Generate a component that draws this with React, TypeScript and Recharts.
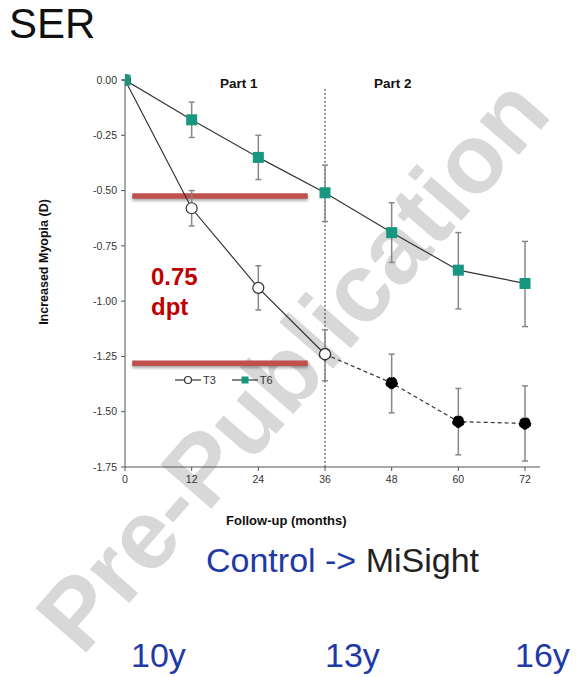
import React from "react";
import {
    LineChart,
    Line,
    XAxis,
    YAxis,
    ErrorBar,
    ReferenceLine,
    Legend,
} from "recharts";

// follow-up months
const months = [0, 12, 24, 36, 48, 60, 72];

// T6 group (teal squares)
const t6Mean = [0, -0.18, -0.35, -0.51, -0.69, -0.86, -0.92];
const t6ErrDown = [0, 0.08, 0.1, 0.13, 0.135, 0.175, 0.195];
const t6ErrUp = [0, 0.08, 0.1, 0.125, 0.135, 0.17, 0.19];

// T3 group: part 1 (control, open circles) then part 2 (MiSight, filled)
const t3Mean = [0, -0.58, -0.94, -1.24, -1.37, -1.545, -1.553];
const t3ErrDown = [0, 0.08, 0.1, 0.12, 0.135, 0.15, 0.17];
const t3ErrUp = [0, 0.08, 0.1, 0.11, 0.13, 0.15, 0.17];

const switchMonth = 36;

const yTicks = [0, -0.25, -0.5, -0.75, -1, -1.25, -1.5, -1.75];
const xTicks = [0, 12, 24, 36, 48, 60, 72];

// red brackets showing the 0.75 D gap
const gapLevels = [-0.524, -1.281];
const gapFrom = 1.3;
const gapTo = 32.9;

const ages = ["10y", "13y", "16y"];

const TEAL = "#17977f";
const FONT = "'Liberation Sans', Arial, Helvetica, sans-serif";

const data = months.map((m, i) => ({
    month: m,
    t6: t6Mean[i],
    t6Err: [t6ErrDown[i], t6ErrUp[i]],
    t3a: m <= switchMonth ? t3Mean[i] : null,
    t3aErr: [t3ErrDown[i], t3ErrUp[i]],
    t3b: m >= switchMonth ? t3Mean[i] : null,
    t3bErr: m > switchMonth ? [t3ErrDown[i], t3ErrUp[i]] : [0, 0],
}));

const SquareDot = (props: any) => {
    const { cx, cy, index } = props;
    if (cx == null || cy == null) return <g key={"sq" + index} />;
    return (
        <rect
            key={"sq" + index}
            x={cx - 5.5}
            y={cy - 5.5}
            width={11}
            height={11}
            fill={TEAL}
        />
    );
};

const LegendContent = (props: any) => {
    const items = (props.payload || []).filter(
        (p: any) => p.dataKey === "t3a" || p.dataKey === "t6",
    );
    return (
        <div style={{ display: "flex", alignItems: "center", fontFamily: FONT, fontSize: 11, color: "#333" }}>
            {items.map((p: any) => (
                <div key={p.dataKey} style={{ display: "flex", alignItems: "center", marginRight: 16 }}>
                    <svg width={26} height={10}>
                        <line x1={0} y1={5} x2={26} y2={5} stroke="#333" strokeWidth={1.2} />
                        {p.dataKey === "t3a" ? (
                            <circle cx={13} cy={5} r={3.5} fill="#fff" stroke="#333" strokeWidth={1.2} />
                        ) : (
                            <rect x={9.5} y={1.5} width={7} height={7} fill={TEAL} />
                        )}
                    </svg>
                    <span style={{ marginLeft: 2 }}>{p.value}</span>
                </div>
            ))}
        </div>
    );
};

const abs = (left: number, top: number, extra: React.CSSProperties = {}): React.CSSProperties => ({
    position: "absolute",
    left,
    top,
    fontFamily: FONT,
    whiteSpace: "nowrap",
    lineHeight: 1,
    ...extra,
});

export default function App() {
    return (
        <div
            style={{
                position: "absolute",
                left: 0,
                top: 0,
                width: 576,
                height: 677,
                background: "#fff",
                overflow: "hidden",
            }}
        >
            {/* watermark */}
            <div
                style={abs(292, 364, {
                    transform: "translate(-50%, -50%) rotate(-49deg)",
                    fontSize: 98,
                    fontWeight: 700,
                    color: "#d8d8d8",
                })}
            >
                Pre-Publication
            </div>

            <div style={abs(9, 3, { fontSize: 42, color: "#111" })}>SER</div>

            <div style={{ position: "absolute", left: 0, top: 0 }}>
                <LineChart
                    width={576}
                    height={540}
                    data={data}
                    margin={{ top: 80, right: 36, bottom: 43, left: 75 }}
                >
                    <XAxis
                        dataKey="month"
                        type="number"
                        domain={[0, 74.7]}
                        ticks={xTicks}
                        tickSize={4}
                        tickMargin={5}
                        height={30}
                        stroke="#555"
                        tick={{ fill: "#333", fontSize: 10.5, fontFamily: FONT }}
                        allowDataOverflow
                    />
                    <YAxis
                        type="number"
                        domain={[-1.75, 0]}
                        ticks={yTicks}
                        tickFormatter={(v: number) => v.toFixed(2)}
                        tickSize={4}
                        tickMargin={4}
                        width={50}
                        stroke="#555"
                        tick={{ fill: "#333", fontSize: 10.5, fontFamily: FONT }}
                    />

                    <ReferenceLine
                        segment={[
                            { x: switchMonth, y: -0.04 },
                            { x: switchMonth, y: -1.75 },
                        ]}
                        stroke="#333"
                        strokeDasharray="2 2"
                        strokeWidth={1}
                    />

                    {gapLevels.map((lv) => (
                        <ReferenceLine
                            key={lv}
                            segment={[
                                { x: gapFrom, y: lv },
                                { x: gapTo, y: lv },
                            ]}
                            stroke="#c0504d"
                            strokeWidth={5.5}
                            style={{ filter: "drop-shadow(0px 2px 1.5px rgba(0,0,0,0.35))" }}
                        />
                    ))}

                    <Legend
                        verticalAlign="middle"
                        layout="horizontal"
                        content={LegendContent}
                        wrapperStyle={{ left: 175, top: 374, width: 140 }}
                    />

                    <Line
                        dataKey="t3b"
                        name="T3 (MiSight)"
                        legendType="none"
                        stroke="#333"
                        strokeWidth={1.2}
                        strokeDasharray="4 3"
                        dot={{ r: 5.8, fill: "#000", stroke: "#000", strokeWidth: 1 }}
                        connectNulls={false}
                        isAnimationActive={false}
                    >
                        <ErrorBar dataKey="t3bErr" direction="y" width={3} stroke="#888" strokeWidth={1.5} />
                    </Line>
                    <Line
                        dataKey="t3a"
                        name="T3"
                        stroke="#333"
                        strokeWidth={1.2}
                        dot={{ r: 5.5, fill: "#fff", stroke: "#333", strokeWidth: 1.2 }}
                        connectNulls={false}
                        isAnimationActive={false}
                    >
                        <ErrorBar dataKey="t3aErr" direction="y" width={3} stroke="#888" strokeWidth={1.5} />
                    </Line>
                    <Line
                        dataKey="t6"
                        name="T6"
                        stroke="#333"
                        strokeWidth={1.2}
                        dot={SquareDot}
                        isAnimationActive={false}
                    >
                        <ErrorBar dataKey="t6Err" direction="y" width={3} stroke="#888" strokeWidth={1.5} />
                    </Line>
                </LineChart>
            </div>

            {/* axis titles */}
            <div
                style={abs(44, 262, {
                    transform: "translate(-50%, -50%) rotate(-90deg)",
                    fontSize: 12.5,
                    fontWeight: 700,
                    color: "#111",
                })}
            >
                Increased Myopia (D)
            </div>
            <div style={abs(226, 514, { fontSize: 13, fontWeight: 700, color: "#111" })}>
                Follow-up (months)
            </div>

            <div style={abs(220, 77, { fontSize: 13.5, fontWeight: 700, color: "#111" })}>Part 1</div>
            <div style={abs(374, 77, { fontSize: 13.5, fontWeight: 700, color: "#111" })}>Part 2</div>

            <div style={abs(151, 262, { fontSize: 24, fontWeight: 700, color: "#c00000", lineHeight: "30px" })}>
                0.75
                <br />
                dpt
            </div>

            <div style={abs(206, 543, { fontSize: 34 })}>
                <span style={{ color: "#1f3aa6" }}>Control -&gt; </span>
                <span style={{ color: "#222" }}>MiSight</span>
            </div>

            {ages.map((a, i) => (
                <div key={a} style={abs([131, 325, 515][i], 638, { fontSize: 34, color: "#1f3aa6" })}>
                    {a}
                </div>
            ))}
        </div>
    );
}
